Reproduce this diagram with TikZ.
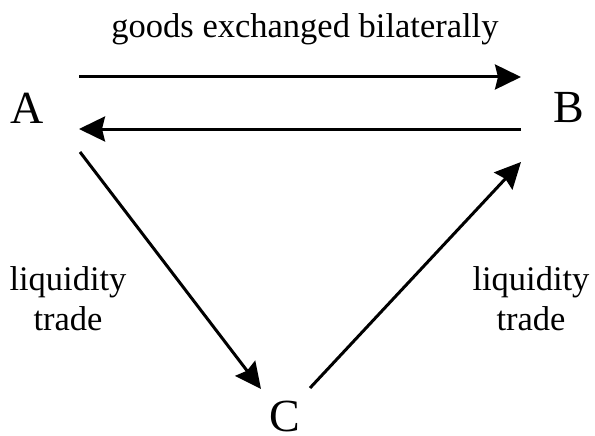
\documentclass[tikz,border=0pt]{standalone}
\usepackage{fontspec}
\setmainfont{Liberation Serif}
\usetikzlibrary{arrows.meta}
\begin{document}
\begin{tikzpicture}[x=1pt,y=-1pt,
  vertex/.style={inner sep=0pt,font=\fontsize{46}{50}\selectfont},
  lbl/.style={inner sep=0pt,font=\fontsize{34.5}{40}\selectfont,align=center},
  conn/.style={line width=3pt,-{Stealth[length=26pt,width=25pt,inset=3pt]}}]
\useasboundingbox (0,0) rectangle (595,436);
\node[vertex] (A) at (27,108) {A};
\node[vertex] (B) at (569,108) {B};
\node[vertex] (C) at (285,416) {C};
\node[lbl,anchor=base] (top) at (305,38) {goods exchanged bilaterally};
\node[lbl,anchor=base] (l1) at (68,290) {liquidity};
\node[lbl,anchor=base] (l2) at (68,330) {trade};
\node[lbl,anchor=base] (r1) at (531,290) {liquidity};
\node[lbl,anchor=base] (r2) at (531,330) {trade};
\coordinate (t1) at (79,77);
\coordinate (t2) at (521,77);
\coordinate (b1) at (521,129);
\coordinate (b2) at (79,129);
\coordinate (d1) at (80,152);
\coordinate (d2) at (261,389);
\coordinate (e1) at (310,388);
\coordinate (e2) at (521,162);
\draw[conn] (t1) -- (t2);
\draw[conn] (b1) -- (b2);
\draw[conn] (d1) -- (d2);
\draw[conn] (e1) -- (e2);
\end{tikzpicture}
\end{document}
